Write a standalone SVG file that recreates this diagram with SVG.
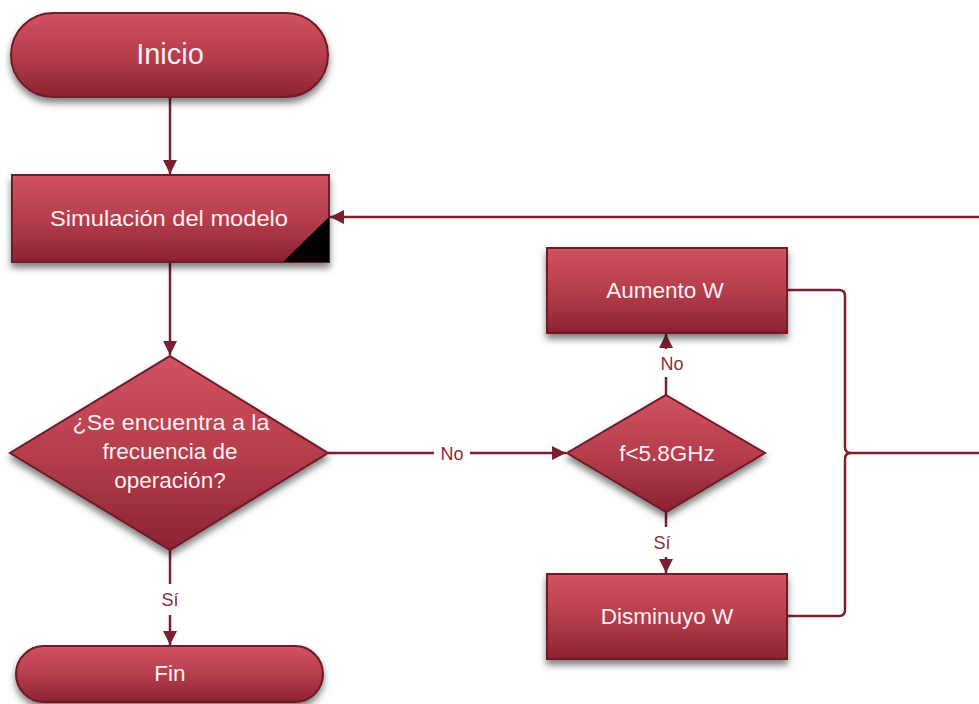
<svg xmlns="http://www.w3.org/2000/svg" width="979" height="704" viewBox="0 0 979 704">
<defs>
<linearGradient id="g" x1="0" y1="0" x2="0" y2="1">
<stop offset="0" stop-color="#D25361"/>
<stop offset="0.5" stop-color="#B63E4D"/>
<stop offset="1" stop-color="#8C2232"/>
</linearGradient>
<filter id="sh" x="-10%" y="-10%" width="120%" height="130%">
<feDropShadow dx="0" dy="5" stdDeviation="3.5" flood-color="#000" flood-opacity="0.5"/>
</filter>
<marker id="ah" viewBox="0 0 10 10" refX="10" refY="5" markerWidth="14" markerHeight="14" markerUnits="userSpaceOnUse" orient="auto">
<path d="M0,0 L10,5 L0,10 z" fill="#7A2030"/>
</marker>
<style>
.s{fill:url(#g);stroke:#6E1A27;stroke-width:2;filter:url(#sh)}
.t{font-family:"Liberation Sans",Arial,sans-serif;fill:#FBEFF1;text-anchor:middle;font-size:22.5px}
.c{fill:none;stroke:#7A2030;stroke-width:2.5}
.l{font-family:"Liberation Sans",Arial,sans-serif;fill:#8E2A3C;text-anchor:middle;font-size:18px}
</style>
</defs>
<g id="connectors">
<path class="c" d="M170,97 V174" marker-end="url(#ah)"/>
<path class="c" d="M170,262 V355" marker-end="url(#ah)"/>
<path class="c" d="M328,453 H434 M470,453 H566" marker-end="url(#ah)"/>
<path class="c" d="M170,550 V584 M170,615 V645" marker-end="url(#ah)"/>
<path class="c" d="M666,395 V377" />
<path class="c" d="M666,349 V334" marker-end="url(#ah)"/>
<path class="c" d="M666,512 V527" />
<path class="c" d="M666,557 V573" marker-end="url(#ah)"/>
<path class="c" d="M787,290 H839 Q845,290 845,296 V447 Q845,453 851,453 H979"/>
<path class="c" d="M787,616 H839 Q845,616 845,610 V459 Q845,453 851,453"/>
<path class="c" d="M979,217 H330" marker-end="url(#ah)"/>
<text class="l" x="452" y="460">No</text>
<text class="l" x="170" y="606">Sí</text>
<text class="l" x="672" y="370">No</text>
<text class="l" x="662" y="549">Sí</text>
</g>
<g id="inicio">
<rect class="s" x="11" y="13" width="317" height="84" rx="42"/>
<text class="t" x="170" y="64" style="font-size:29px">Inicio</text>
</g>
<g id="simulacion">
<rect class="s" x="12" y="175" width="317" height="87"/>
<path d="M283,262 L329,262 L329,217 z" fill="#000"/>
<text class="t" x="169" y="226" textLength="238" lengthAdjust="spacingAndGlyphs">Simulación del modelo</text>
</g>
<g id="decision1">
<path class="s" d="M170,356 L328,453 L170,550 L10,453 z"/>
<text class="t" x="171" y="430" textLength="197" lengthAdjust="spacingAndGlyphs">¿Se encuentra a la</text>
<text class="t" x="170" y="459">frecuencia de</text>
<text class="t" x="170" y="488">operación?</text>
</g>
<g id="decision2">
<path class="s" d="M666,395 L765,453 L666,512 L567,453 z"/>
<text class="t" x="667" y="461">f&lt;5.8GHz</text>
</g>
<g id="aumento">
<rect class="s" x="547" y="248" width="240" height="85"/>
<text class="t" x="665" y="298">Aumento W</text>
</g>
<g id="disminuyo">
<rect class="s" x="547" y="574" width="240" height="85"/>
<text class="t" x="667" y="624">Disminuyo W</text>
</g>
<g id="fin">
<rect class="s" x="16" y="646" width="307" height="56" rx="28"/>
<text class="t" x="170" y="681">Fin</text>
</g>
</svg>
